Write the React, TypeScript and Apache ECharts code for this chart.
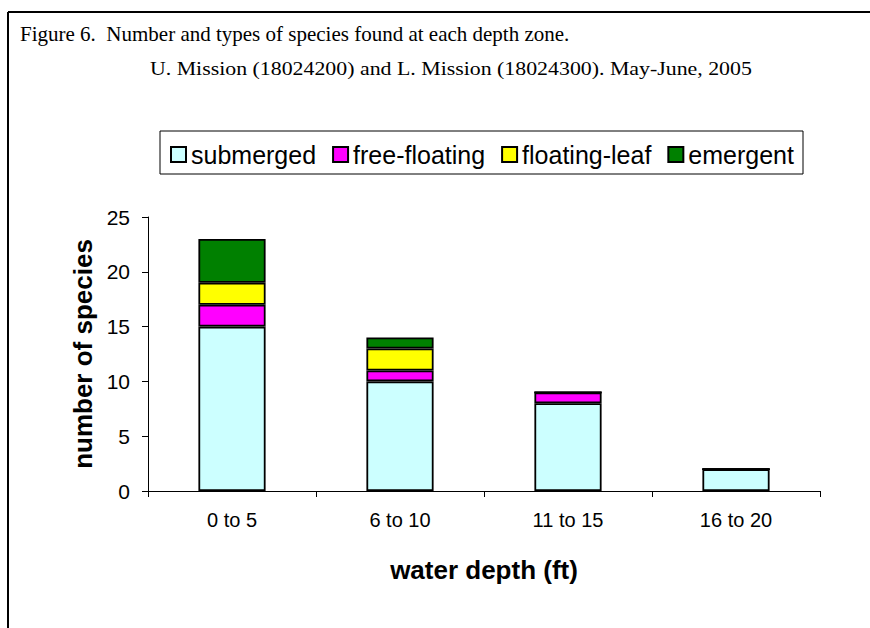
import React, { useEffect, useRef } from "react";
import * as echarts from "echarts";

const categories = ["0 to 5", "6 to 10", "11 to 15", "16 to 20"];
const submerged = [15, 10, 8, 2];
const freeFloating = [2, 1, 1, 0];
const floatingLeaf = [2, 2, 0, 0];
const emergent = [4, 1, 0, 0];
const seriesNames = ["submerged", "free-floating", "floating-leaf", "emergent"];
const seriesColors = ["#CCFFFF", "#FF00FF", "#FFFF00", "#008000"];
const titleText = "Figure 6.  Number and types of species found at each depth zone.";
const subtitleText = "U. Mission (18024200) and L. Mission (18024300). May-June, 2005";

const SANS = "'Liberation Sans', Arial, sans-serif";
const SERIF = "'Liberation Serif', 'Times New Roman', serif";

export default function App() {
  const ref = useRef<HTMLDivElement>(null);
  useEffect(() => {
    if (!ref.current) return;
    const chart = echarts.init(ref.current, null, { renderer: "svg" });
    const data = [submerged, freeFloating, floatingLeaf, emergent];
    chart.setOption({
      animation: false,
      backgroundColor: "#ffffff",
      textStyle: { fontFamily: SANS },
      graphic: [
        { type: "line", shape: { x1: 8, y1: 12, x2: 870, y2: 12 }, style: { stroke: "#000", lineWidth: 2 } },
        { type: "line", shape: { x1: 8, y1: 12, x2: 8, y2: 628 }, style: { stroke: "#000", lineWidth: 2 } },
        { type: "text", x: 20, y: 23, style: { text: titleText, font: `21px ${SERIF}`, fill: "#000" } },
        { type: "text", x: 150, y: 59, scaleX: 1.15, style: { text: subtitleText, font: `19px ${SERIF}`, fill: "#000" } },
        { type: "rect", shape: { x: 160, y: 131, width: 643, height: 43 }, style: { fill: "none", stroke: "#000", lineWidth: 1 } },
      ],
      legend: {
        left: 165,
        top: 137,
        itemWidth: 15,
        itemHeight: 15,
        itemGap: 16,
        icon: "rect",
        textStyle: { fontSize: 25, fontFamily: SANS, color: "#000" },
        data: seriesNames,
      },
      grid: { left: 148, right: 50, top: 217, bottom: 137 },
      xAxis: {
        type: "category",
        data: categories,
        name: "water depth (ft)",
        nameLocation: "middle",
        nameGap: 66,
        nameTextStyle: { fontSize: 26, fontWeight: "bold", color: "#000", fontFamily: SANS },
        axisLine: { lineStyle: { color: "#000", width: 1 } },
        axisTick: { show: true, length: 6, lineStyle: { color: "#000" } },
        axisLabel: { fontSize: 20, color: "#000", margin: 19, fontFamily: SANS },
      },
      yAxis: {
        type: "value",
        min: 0,
        max: 25,
        interval: 5,
        name: "number of species",
        nameLocation: "middle",
        nameGap: 47,
        nameTextStyle: { fontSize: 26, fontWeight: "bold", color: "#000", fontFamily: SANS },
        axisLine: { show: true, lineStyle: { color: "#000", width: 1 } },
        axisTick: { show: true, length: 6, lineStyle: { color: "#000" } },
        axisLabel: { fontSize: 21, color: "#000", margin: 18, fontFamily: SANS },
        splitLine: { show: false },
      },
      series: seriesNames.map((name, i) => ({
        name,
        type: "bar",
        stack: "total",
        barWidth: "40%",
        data: data[i],
        itemStyle: { color: seriesColors[i], borderColor: "#000", borderWidth: 1.8 },
      })),
    });
    return () => chart.dispose();
  }, []);
  return <div ref={ref} style={{ width: 870, height: 628, position: "absolute", left: 0, top: 0 }} />;
}
